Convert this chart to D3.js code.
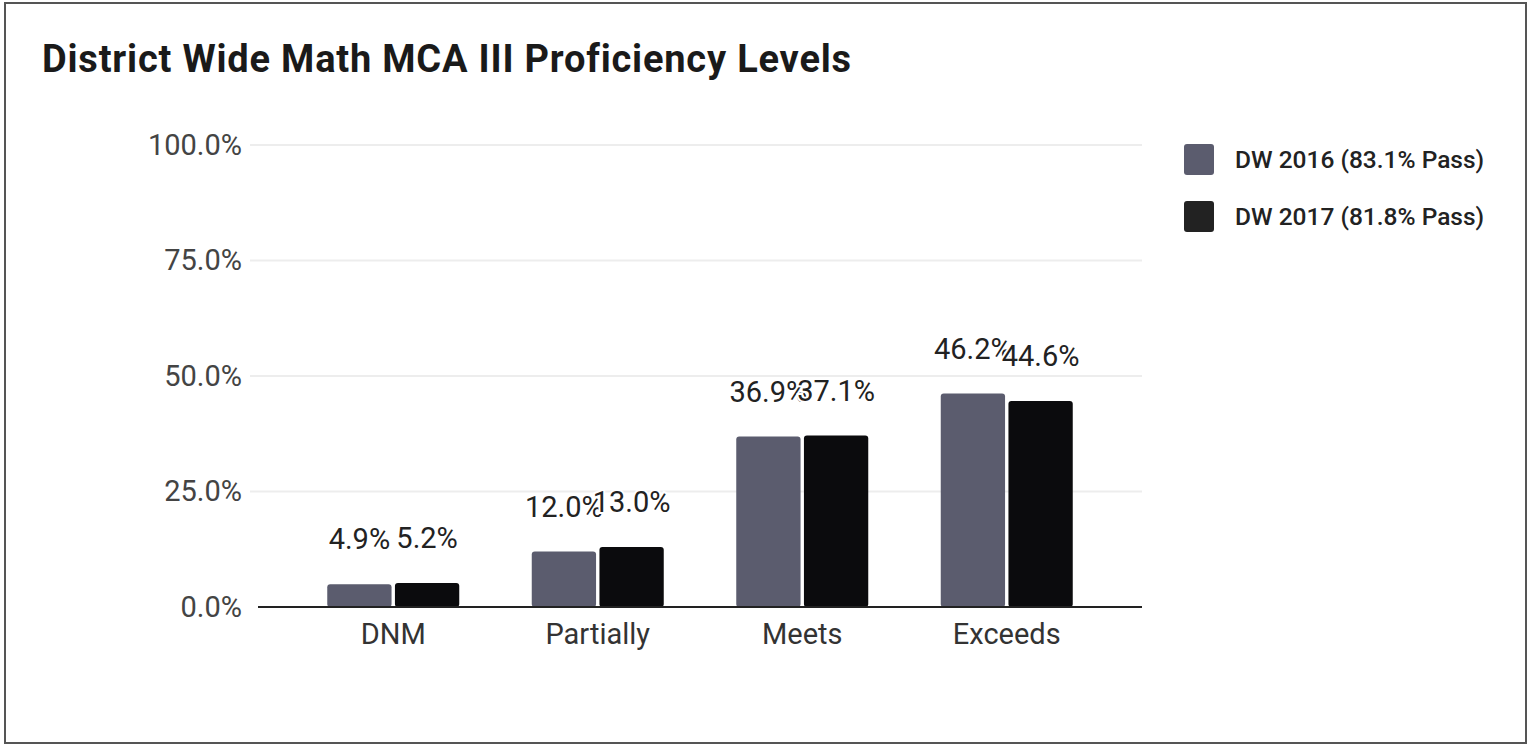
<!DOCTYPE html>
<html lang="en">
<head>
<meta charset="utf-8">
<title>District Wide Math MCA III Proficiency Levels</title>
<style>
  body { margin: 0; background: #fff; }
  svg text { font-family: Roboto, "Noto Sans", sans-serif; }
</style>
</head>
<body>
<div id="chart"></div>
<script src="https://cdn.jsdelivr.net/npm/d3@7/dist/d3.min.js"></script>
<script>
  var categories = ["DNM", "Partially", "Meets", "Exceeds"];
  var seriesNames = ["DW 2016 (83.1% Pass)", "DW 2017 (81.8% Pass)"];
  var dw2016 = [4.9, 12.0, 36.9, 46.2];
  var dw2017 = [5.2, 13.0, 37.1, 44.6];
  var yTicks = [0, 25, 50, 75, 100];
  var colors = ["#5b5c6e", "#0b0b0d"];

  var width = 1529, height = 747;
  var plotLeft = 258, plotRight = 1142, plotTop = 145, plotBottom = 607;

  var svg = d3.select("#chart").append("svg")
      .attr("width", width)
      .attr("height", height);

  // outer frame
  svg.append("rect")
      .attr("x", 5).attr("y", 3)
      .attr("width", 1521).attr("height", 740)
      .attr("fill", "none")
      .attr("stroke", "#555")
      .attr("stroke-width", 2);

  svg.append("text")
      .attr("x", 42).attr("y", 72)
      .attr("font-size", 38)
      .attr("font-weight", "bold")
      .attr("letter-spacing", 0.8)
      .attr("fill", "#1a1a1a")
      .text("District Wide Math MCA III Proficiency Levels");

  var y = d3.scaleLinear().domain([0, 100]).range([plotBottom, plotTop]);
  var x0 = d3.scaleBand().domain(categories).range([291, 1109]);
  var groupW = 132;
  var x1 = d3.scaleBand().domain([0, 1]).range([0, groupW]).paddingInner(0.05);

  // gridlines
  svg.append("g").selectAll("line")
    .data(yTicks.filter(function(d){ return d > 0; }))
    .enter().append("line")
      .attr("x1", 250).attr("x2", plotRight)
      .attr("y1", function(d){ return y(d); })
      .attr("y2", function(d){ return y(d); })
      .attr("stroke", "#ededed")
      .attr("stroke-width", 2);

  // y labels
  svg.append("g").selectAll("text")
    .data(yTicks)
    .enter().append("text")
      .attr("x", 242)
      .attr("y", function(d){ return y(d); })
      .attr("dy", "0.33em")
      .attr("text-anchor", "end")
      .attr("font-size", 29)
      .attr("fill", "#444")
      .text(function(d){ return d.toFixed(1) + "%"; });

  var rows = categories.map(function(c, i){ return [dw2016[i], dw2017[i]]; });

  var groups = svg.append("g").selectAll("g")
    .data(rows)
    .enter().append("g")
      .attr("transform", function(d, i){
        return "translate(" + (x0(categories[i]) + (x0.bandwidth() - groupW) / 2) + ",0)";
      });

  groups.selectAll("rect")
    .data(function(d){ return d; })
    .enter().append("rect")
      .attr("x", function(d, j){ return x1(j); })
      .attr("y", function(d){ return y(d); })
      .attr("width", x1.bandwidth())
      .attr("height", function(d){ return plotBottom - y(d); })
      .attr("rx", 3)
      .attr("fill", function(d, j){ return colors[j]; });

  // value labels: the 2017 label is drawn over the 2016 one with a white halo
  groups.selectAll("text")
    .data(function(d){ return d; })
    .enter().append("text")
      .attr("x", function(d, j){ return x1(j) + x1.bandwidth() / 2; })
      .attr("y", function(d){ return y(d) - 35; })
      .attr("text-anchor", "middle")
      .attr("font-size", 29)
      .attr("fill", "#222")
      .attr("stroke", "#fff")
      .attr("stroke-width", 4)
      .attr("paint-order", "stroke")
      .text(function(d){ return d.toFixed(1) + "%"; });

  // baseline
  svg.append("line")
      .attr("x1", plotLeft).attr("x2", plotRight)
      .attr("y1", plotBottom).attr("y2", plotBottom)
      .attr("stroke", "#222")
      .attr("stroke-width", 2);

  // category labels
  svg.append("g").selectAll("text")
    .data(categories)
    .enter().append("text")
      .attr("x", function(d){ return x0(d) + x0.bandwidth() / 2; })
      .attr("y", 644)
      .attr("text-anchor", "middle")
      .attr("font-size", 29)
      .attr("fill", "#333")
      .text(function(d){ return d; });

  // legend
  var legend = svg.append("g").selectAll("g")
    .data(seriesNames)
    .enter().append("g")
      .attr("transform", function(d, i){ return "translate(1184," + (144 + i * 57) + ")"; });

  legend.append("rect")
      .attr("width", 30).attr("height", 31)
      .attr("rx", 3)
      .attr("fill", function(d, i){ return i === 0 ? "#5b5c6e" : "#222"; });

  legend.append("text")
      .attr("x", 51).attr("y", 15.5)
      .attr("dy", "0.36em")
      .attr("font-size", 24.5)
      .attr("font-weight", 500)
      .attr("fill", "#222")
      .text(function(d){ return d; });
</script>
</body>
</html>
